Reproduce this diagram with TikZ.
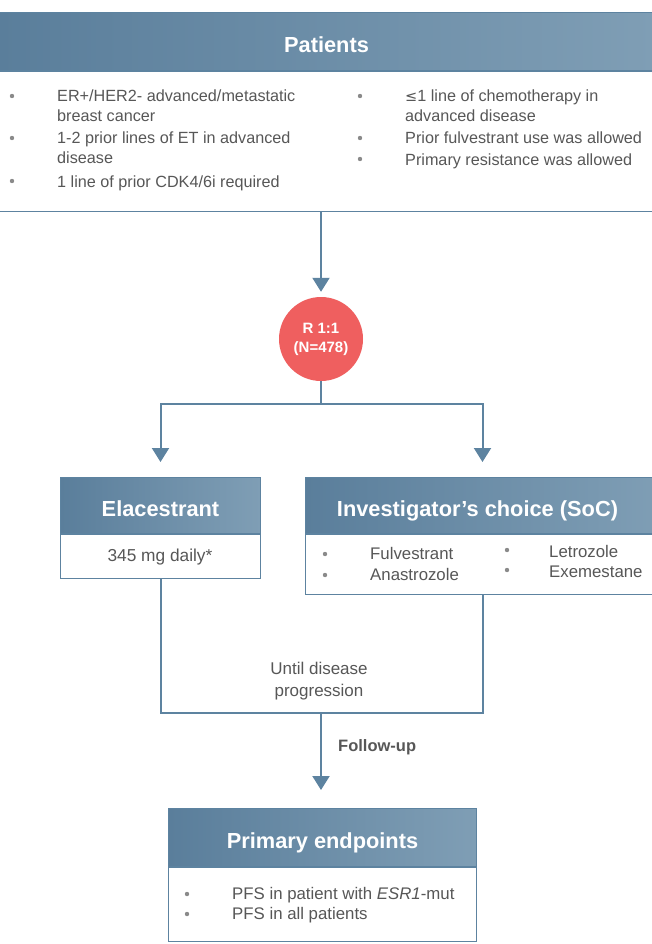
\documentclass[tikz,border=0pt]{standalone}
\usepackage{fontspec}
\setmainfont{Liberation Sans}
\newfontfamily\symfont{DejaVu Sans}
\usetikzlibrary{arrows.meta,positioning}
\definecolor{lineblue}{HTML}{5D83A0}
\definecolor{hdrA}{HTML}{5A7E9B}
\definecolor{hdrB}{HTML}{7F9EB5}
\definecolor{txtgray}{HTML}{575757}
\definecolor{dotgray}{HTML}{8A8A8A}
\definecolor{randred}{HTML}{EF5F5F}
\tikzset{
  hdr/.style={draw=lineblue, line width=1pt, left color=hdrA, right color=hdrB, shading angle=90,
    text=white, font=\fontsize{21.8}{26}\selectfont\bfseries, inner sep=0pt, anchor=north west,
    text height=22pt, text depth=0pt},
  bodybox/.style={draw=lineblue, line width=1pt, fill=white, inner sep=0pt, anchor=north},
  conn/.style={draw=lineblue, line width=2pt},
  tip/.style={-{Triangle[width=17pt,length=14pt]}},
  list/.style={text=txtgray, font=\fontsize{16.8}{21}\selectfont, inner sep=0pt, anchor=base west},
  bdot/.style={fill=dotgray},
}
\begin{document}
\begin{tikzpicture}[x=1pt,y=-1pt]
  \useasboundingbox[fill=white] (0,0) rectangle (652,944);

  % patients
  \node[hdr, minimum width=656pt, minimum height=58pt] (patH) at (-2,12) {Patients};
  \node[bodybox, minimum width=656pt, minimum height=140pt] (patB) at (patH.south) {};
  \foreach \y/\t [count=\i] in {102/{ER+/HER2- advanced/metastatic}, 122/{breast cancer},
      144/{1-2 prior lines of ET in advanced}, 164/disease, 187/{1 line of prior CDK4/6i required}}
    \node[list, font=\fontsize{16.2}{21}\selectfont] (patL\i) at (57,\y) {\t};
  \foreach \y/\t [count=\i] in {102/{{\symfont\fontsize{14.5}{21}\selectfont ≤}1 line of chemotherapy in},
      122/{advanced disease}, 144/{Prior fulvestrant use was allowed}, 165/{Primary resistance was allowed}}
    \node[list, font=\fontsize{16.2}{21}\selectfont] (patR\i) at (405,\y) {\t};
  \foreach \y in {96,138,181} \fill[bdot] (12,\y) circle (2.2);
  \foreach \y in {96,138,159} \fill[bdot] (360,\y) circle (2.2);

  % randomisation
  \node[circle, fill=randred, minimum size=84pt, inner sep=0pt, text=white, align=center,
    font=\fontsize{15}{19}\selectfont\bfseries] (rand) at (321,339) {R 1:1\\(N=478)};

  % arms
  \node[hdr, minimum width=200pt, minimum height=56pt] (elaH) at (60,477) {Elacestrant};
  \node[bodybox, minimum width=200pt, minimum height=44pt] (elaB) at (elaH.south) {};
  \node[list, font=\fontsize{17.3}{21}\selectfont, anchor=base] (elaT) at (160,561) {345 mg daily*};
  \node[hdr, minimum width=354pt, minimum height=56pt] (socH) at (305,477) {\hspace*{-10pt}Investigator’s choice (SoC)};
  \node[bodybox, minimum width=354pt, minimum height=60pt] (socB) at (socH.south) {};
  \node[list] (socL1) at (370,559) {Fulvestrant};
  \node[list] (socL2) at (370,580) {Anastrozole};
  \node[list] (socR1) at (549,557) {Letrozole};
  \node[list] (socR2) at (549,577) {Exemestane};
  \foreach \y in {554,575} \fill[bdot] (325,\y) circle (2.2);
  \foreach \y in {550,570} \fill[bdot] (507,\y) circle (2.2);

  % endpoints
  \node[hdr, minimum width=308pt, minimum height=58pt] (endH) at (168,808) {Primary endpoints};
  \node[bodybox, minimum width=308pt, minimum height=74pt] (endB) at (endH.south) {};
  \node[list] (endL1) at (232,899) {PFS in patient with \textit{ESR1}-mut};
  \node[list] (endL2) at (232,919) {PFS in all patients};
  \foreach \y in {894,914} \fill[bdot] (187,\y) circle (2.2);

  % connectors
  \coordinate (split) at (321,404);
  \coordinate (merge) at (321,713);
  \draw[conn, tip, shorten >=5pt] (patB.south -| rand) -- (rand.north);
  \draw[conn] (rand.south) -- (split);
  \draw[conn, tip, shorten >=15pt] (split) -| (elaH.north);
  \draw[conn, tip, shorten >=15pt] (split) -| (socH.north);
  \draw[conn] (elaB.south) |- (merge) -| (socB.south);
  \draw[conn, tip, shorten >=18pt] (merge) -- (endH.north -| merge);

  \node[list, font=\fontsize{17}{22}\selectfont, anchor=base] (until1) at (319,674) {Until disease};
  \node[list, font=\fontsize{17}{22}\selectfont, anchor=base] (until2) at (319,696) {progression};
  \node[list, font=\fontsize{16.5}{20}\selectfont\bfseries] (follow) at (338,751) {Follow-up};
\end{tikzpicture}
\end{document}
